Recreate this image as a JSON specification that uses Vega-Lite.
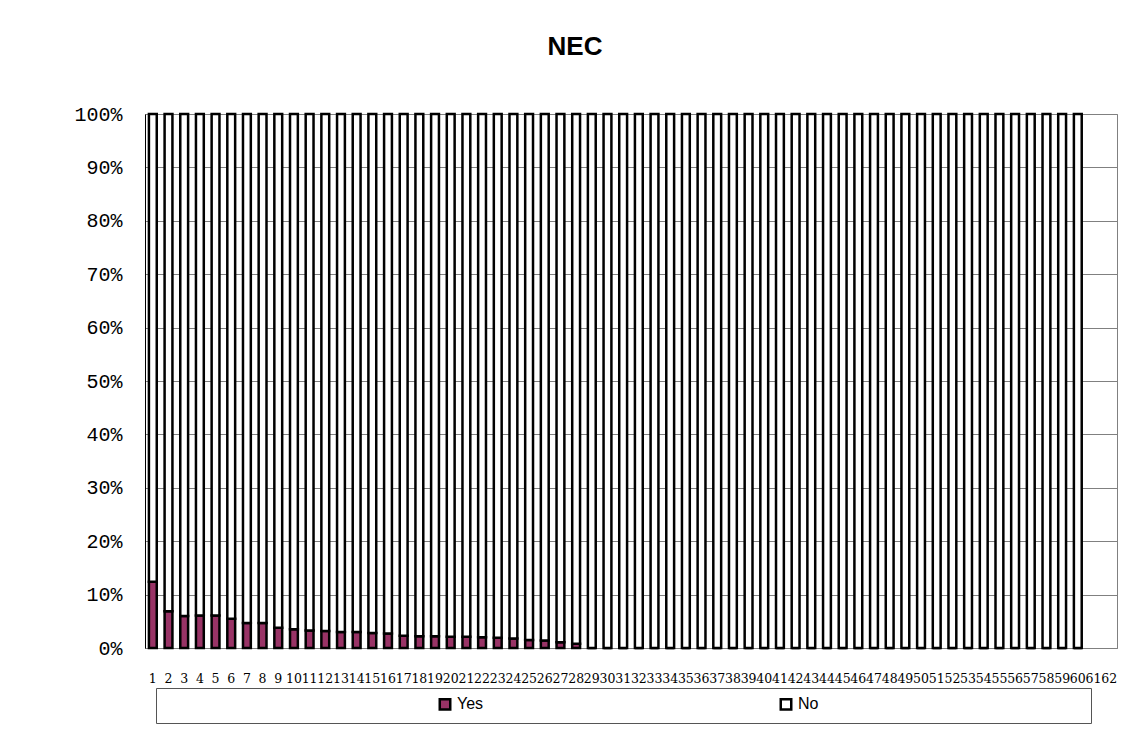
{
  "$schema": "https://vega.github.io/schema/vega-lite/v6.json",
  "autosize": {"type": "none"},
  "width": 972,
  "height": 534,
  "padding": {"left": 145, "top": 114, "right": 19, "bottom": 81},
  "background": "white",
  "title": {
    "text": "NEC",
    "font": "Liberation Sans",
    "fontSize": 26,
    "fontWeight": "bold",
    "color": "black",
    "anchor": "middle",
    "dx": -56,
    "offset": 44
  },
  "data": {
    "values": [
      {"n": 1, "Yes": 12.4, "No": 87.6},
      {"n": 2, "Yes": 6.9, "No": 93.1},
      {"n": 3, "Yes": 6.0, "No": 94.0},
      {"n": 4, "Yes": 6.1, "No": 93.9},
      {"n": 5, "Yes": 6.1, "No": 93.9},
      {"n": 6, "Yes": 5.5, "No": 94.5},
      {"n": 7, "Yes": 4.7, "No": 95.3},
      {"n": 8, "Yes": 4.7, "No": 95.3},
      {"n": 9, "Yes": 3.8, "No": 96.2},
      {"n": 10, "Yes": 3.5, "No": 96.5},
      {"n": 11, "Yes": 3.3, "No": 96.7},
      {"n": 12, "Yes": 3.2, "No": 96.8},
      {"n": 13, "Yes": 3.0, "No": 97.0},
      {"n": 14, "Yes": 3.0, "No": 97.0},
      {"n": 15, "Yes": 2.8, "No": 97.2},
      {"n": 16, "Yes": 2.7, "No": 97.3},
      {"n": 17, "Yes": 2.3, "No": 97.7},
      {"n": 18, "Yes": 2.2, "No": 97.8},
      {"n": 19, "Yes": 2.2, "No": 97.8},
      {"n": 20, "Yes": 2.1, "No": 97.9},
      {"n": 21, "Yes": 2.1, "No": 97.9},
      {"n": 22, "Yes": 2.0, "No": 98.0},
      {"n": 23, "Yes": 1.9, "No": 98.1},
      {"n": 24, "Yes": 1.8, "No": 98.2},
      {"n": 25, "Yes": 1.5, "No": 98.5},
      {"n": 26, "Yes": 1.4, "No": 98.6},
      {"n": 27, "Yes": 1.1, "No": 98.9},
      {"n": 28, "Yes": 0.8, "No": 99.2},
      {"n": 29, "Yes": 0, "No": 100},
      {"n": 30, "Yes": 0, "No": 100},
      {"n": 31, "Yes": 0, "No": 100},
      {"n": 32, "Yes": 0, "No": 100},
      {"n": 33, "Yes": 0, "No": 100},
      {"n": 34, "Yes": 0, "No": 100},
      {"n": 35, "Yes": 0, "No": 100},
      {"n": 36, "Yes": 0, "No": 100},
      {"n": 37, "Yes": 0, "No": 100},
      {"n": 38, "Yes": 0, "No": 100},
      {"n": 39, "Yes": 0, "No": 100},
      {"n": 40, "Yes": 0, "No": 100},
      {"n": 41, "Yes": 0, "No": 100},
      {"n": 42, "Yes": 0, "No": 100},
      {"n": 43, "Yes": 0, "No": 100},
      {"n": 44, "Yes": 0, "No": 100},
      {"n": 45, "Yes": 0, "No": 100},
      {"n": 46, "Yes": 0, "No": 100},
      {"n": 47, "Yes": 0, "No": 100},
      {"n": 48, "Yes": 0, "No": 100},
      {"n": 49, "Yes": 0, "No": 100},
      {"n": 50, "Yes": 0, "No": 100},
      {"n": 51, "Yes": 0, "No": 100},
      {"n": 52, "Yes": 0, "No": 100},
      {"n": 53, "Yes": 0, "No": 100},
      {"n": 54, "Yes": 0, "No": 100},
      {"n": 55, "Yes": 0, "No": 100},
      {"n": 56, "Yes": 0, "No": 100},
      {"n": 57, "Yes": 0, "No": 100},
      {"n": 58, "Yes": 0, "No": 100},
      {"n": 59, "Yes": 0, "No": 100},
      {"n": 60, "Yes": 0, "No": 100}
    ]
  },
  "transform": [{"fold": ["Yes", "No"], "as": ["answer", "pct"]}],
  "mark": {"type": "bar", "stroke": "black", "strokeWidth": 2.5, "strokeJoin": "miter"},
  "encoding": {
    "x": {
      "field": "n",
      "type": "ordinal",
      "scale": {
        "domain": [1,2,3,4,5,6,7,8,9,10,11,12,13,14,15,16,17,18,19,20,21,22,23,24,25,26,27,28,29,30,31,32,33,34,35,36,37,38,39,40,41,42,43,44,45,46,47,48,49,50,51,52,53,54,55,56,57,58,59,60,61,62],
        "paddingInner": 0.5,
        "paddingOuter": 0.25
      },
      "axis": {
        "title": null,
        "labelAngle": 0,
        "labelOverlap": false,
        "labelFont": "DejaVu Serif",
        "labelFontSize": 12.5,
        "labelColor": "black",
        "labelPadding": 24,
        "ticks": false,
        "domainColor": "#808080",
        "domainWidth": 1
      }
    },
    "y": {
      "field": "pct",
      "type": "quantitative",
      "stack": "normalize",
      "axis": {
        "title": null,
        "values": [0, 0.1, 0.2, 0.3, 0.4, 0.5, 0.6, 0.7, 0.8, 0.9, 1],
        "format": ".0%",
        "labelFont": "Liberation Mono",
        "labelFontSize": 20,
        "labelColor": "black",
        "labelPadding": 23,
        "ticks": false,
        "domainColor": "black",
        "gridColor": "#808080",
        "gridWidth": 1
      }
    },
    "color": {
      "field": "answer",
      "type": "nominal",
      "scale": {"domain": ["Yes", "No"], "range": ["#993366", "white"]},
      "legend": {
        "title": "\u00a0",
        "titleOrient": "left",
        "titleFontSize": 16,
        "titlePadding": 273,
        "orient": "none",
        "legendX": 11,
        "legendY": 574,
        "direction": "horizontal",
        "columnPadding": 291,
        "padding": 8,
        "strokeColor": "#555555",
        "symbolType": "square",
        "symbolSize": 110,
        "symbolStrokeColor": "black",
        "symbolStrokeWidth": 2.5,
        "symbolOpacity": 1,
        "labelFont": "Liberation Sans",
        "labelFontSize": 16,
        "labelColor": "black",
        "labelOffset": 4,
        "labelLimit": 0,
        "labelExpr": "datum.label == 'No' ? pad(datum.label, 24, '\u2800') : datum.label"
      }
    },
    "order": {"field": "answer", "sort": "descending"}
  },
  "config": {
    "view": {"stroke": "#808080", "strokeWidth": 1},
    "font": "Liberation Sans"
  }
}
